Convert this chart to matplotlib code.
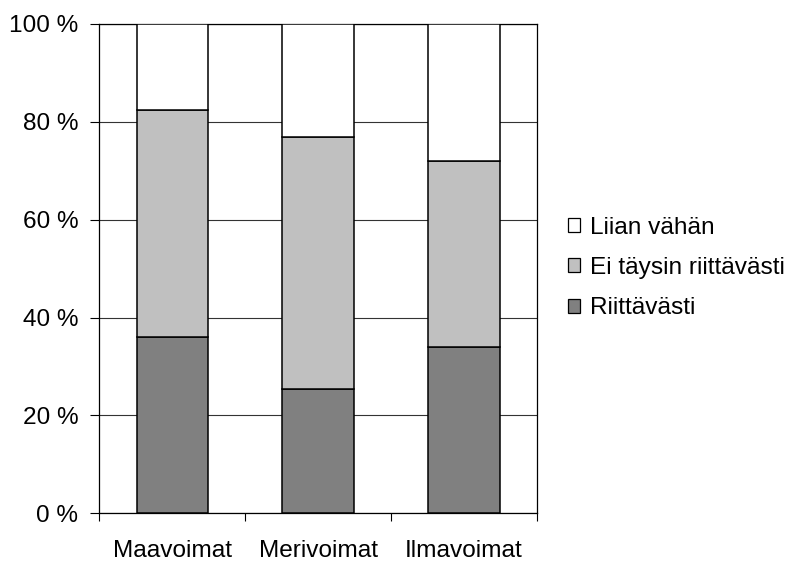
import matplotlib
matplotlib.use("Agg")
import matplotlib.pyplot as plt
import numpy as np
from matplotlib.patches import Patch

categories = ["Maavoimat", "Merivoimat", "Ilmavoimat"]
riittavasti = [36.0, 25.5, 34.0]
ei_taysin = [46.5, 51.5, 38.0]
liian_vahan = [17.5, 23.0, 28.0]
y_ticks = [0, 20, 40, 60, 80, 100]
y_ticklabels = ["0 %", "20 %", "40 %", "60 %", "80 %", "100 %"]
series_names = ["Riittävästi", "Ei täysin riittävästi", "Liian vähän"]
colors = ["#808080", "#C0C0C0", "#FFFFFF"]

plt.rcParams['font.family'] = ['Liberation Sans', 'DejaVu Sans']
FS = 17.6

fig = plt.figure(figsize=(7.99, 5.62), dpi=100)
ax = fig.add_axes([99.3/799, 1 - 513.3/562, (537 - 99.3)/799, (513.3 - 24)/562])

x = np.arange(len(categories))
bottom = np.zeros(len(categories))
handles = []
for vals, name, c in zip([riittavasti, ei_taysin, liian_vahan], series_names, colors):
    ax.bar(x, vals, bottom=bottom, width=0.49, color=c, edgecolor="black", linewidth=1.1, zorder=3)
    bottom += np.array(vals)
    handles.append(Patch(facecolor=c, edgecolor="black", linewidth=0.9, label=name))

ax.set_xlim(-0.5, 2.5)
ax.set_ylim(0, 100)
ax.set_yticks(y_ticks)
ax.set_yticklabels(y_ticklabels, fontsize=FS)
ax.yaxis.grid(True, color="#333333", linewidth=0.8, zorder=0)
ax.set_axisbelow(True)

ax.set_xticks(x)
ax.set_xticklabels(categories, fontsize=FS)
ax.tick_params(axis="x", which="major", length=0, pad=19)
ax.set_xticks([-0.5, 0.5, 1.5, 2.5], minor=True)
ax.tick_params(axis="x", which="minor", length=6, width=0.8, direction="out")
ax.tick_params(axis="y", length=6.5, width=0.8, direction="out", pad=8.5)

for s in ax.spines.values():
    s.set_linewidth(0.9)
    s.set_color("black")

leg = fig.legend(handles=handles[::-1], loc="center left",
                 bbox_to_anchor=(568/799, 1 - 268/562), frameon=False,
                 fontsize=FS, handlelength=0.5, handleheight=0.5,
                 handletextpad=0.4, labelspacing=0.75, borderaxespad=0,
                 borderpad=0)

fig.savefig("out.png", dpi=100)
